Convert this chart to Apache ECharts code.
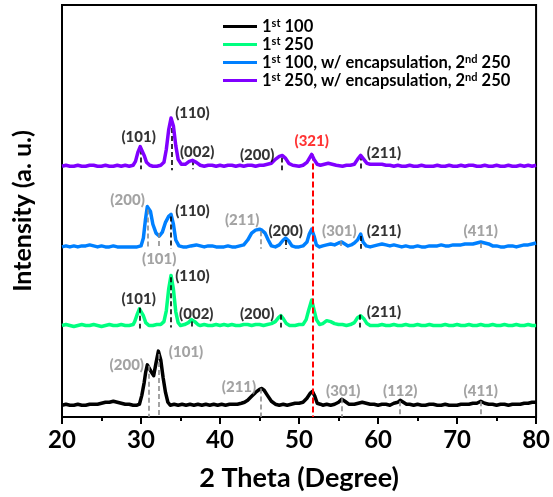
<!DOCTYPE html>
<html><head><meta charset="utf-8">
<script src="https://cdn.jsdelivr.net/npm/echarts@6/dist/echarts.min.js"></script>
<style>html,body{margin:0;padding:0;background:#fff}#c{width:553px;height:497px}</style>
</head><body><div id="c"></div>
<script>
const seriesNames = ['1st 100', '1st 250', '1st 100, w/ encapsulation, 2nd 250', '1st 250, w/ encapsulation, 2nd 250'];
const xTicks = [20, 30, 40, 50, 60, 70, 80];

const black = [[20,12],[20.5,13],[21,12],[21.5,12],[22,13],[22.5,12],[23,12],[23.5,13],[24,13],[24.5,13],[25,14],[25.5,15],[26,15],[26.5,16],[27,15],[27.5,14],[28,13],[28.5,13],[29,12],[29.5,12],[29.8,13],[30.1,22],[30.4,35],[30.6,46],[30.8,53],[31.0,52],[31.3,46],[31.6,42],[31.9,55],[32.2,67],[32.5,58],[32.8,40],[33.1,25],[33.4,15],[33.7,12],[34.2,13],[34.7,12],[35.2,13],[35.7,12],[36.2,13],[36.7,12],[37.2,13],[37.7,12],[38.2,13],[38.7,12],[39.2,13],[39.7,12],[40.2,13],[40.7,12],[41.2,13],[41.7,13],[42.2,13],[42.7,14],[43.1,15],[43.5,17],[44,21],[44.5,25],[45,28],[45.3,29],[45.6,27],[46,22],[46.5,16],[47,13],[47.5,12],[48,13],[48.5,12],[49,13],[49.5,14],[50,14],[50.5,15],[51,19],[51.4,24],[51.7,26],[52,21],[52.3,14],[52.7,13],[53,12],[53.5,13],[54,12],[54.5,13],[55,15],[55.4,18],[55.8,16],[56.3,13],[57,13],[57.5,14],[58,15],[58.5,14],[59,13],[59.5,13],[60,12],[60.5,13],[61,13],[61.5,12],[62,14],[62.5,15],[62.8,17],[63.2,15],[63.6,13],[64,13],[64.5,12],[65,13],[65.5,12],[66,12],[66.5,13],[67,13],[67.5,12],[68,12],[68.5,13],[69,12],[69.5,12],[70,12],[70.5,13],[71,13],[71.5,13],[72,14],[72.5,14],[73,16],[73.5,14],[74,13],[74.5,13],[75,12],[75.5,13],[76,13],[76.5,12],[77,13],[77.5,13],[78,13],[78.5,14],[79,14],[79.5,15],[80,15]];

const green = [[20,93],[20.5,94],[21,93],[21.5,92],[22,93],[22.5,94],[23,93],[23.5,93],[24,94],[24.5,93],[25,92],[25.5,93],[26,94],[26.5,93],[27,93],[27.5,94],[28,93],[28.5,93],[29,94],[29.2,97],[29.5,104],[29.8,110],[30.0,111],[30.3,103],[30.6,96],[31.0,93],[31.5,93],[32,94],[32.5,94],[32.9,97],[33.2,108],[33.5,130],[33.8,144],[34.1,130],[34.4,107],[34.7,96],[35,93],[35.5,94],[36,96],[36.4,99],[36.8,97],[37.2,94],[37.5,93],[38,94],[38.5,93],[39,93],[39.5,94],[40,93],[40.5,94],[41,93],[41.5,94],[42,93],[42.5,93],[43,94],[43.5,94],[44,93],[44.5,94],[45,94],[45.5,93],[46,94],[46.5,95],[47,97],[47.4,101],[47.7,103],[48,100],[48.4,95],[48.8,93],[49.5,93],[50,94],[50.5,94],[50.9,99],[51.2,108],[51.6,119],[51.9,109],[52.2,99],[52.6,94],[53,95],[53.5,98],[54,97],[54.5,95],[55,94],[55.5,94],[56,93],[56.5,94],[57,96],[57.4,101],[57.8,103],[58.2,100],[58.6,95],[59,93],[59.5,93],[60,93],[60.5,94],[61,93],[61.5,93],[62,94],[62.5,93],[63,93],[63.5,94],[64,93],[64.5,93],[65,94],[65.5,93],[66,93],[66.5,94],[67,93],[67.5,93],[68,93],[68.5,94],[69,93],[69.5,93],[70,94],[70.5,93],[71,93],[71.5,94],[72,93],[72.5,93],[73,94],[73.5,93],[74,93],[74.5,94],[75,93],[75.5,93],[76,94],[76.5,93],[77,93],[77.5,94],[78,93],[78.5,93],[79,94],[79.5,93],[80,93]];

const blue = [[20,173],[20.5,174],[21,173],[21.5,174],[22,173],[22.5,174],[23,174],[23.5,175],[24,174],[24.5,173],[25,174],[25.5,173],[26,173],[26.5,174],[27,173],[27.5,173],[28,173],[28.5,173],[29,173],[29.5,173],[30,174],[30.3,182],[30.55,200],[30.8,214],[31.0,216],[31.2,209],[31.5,196],[31.9,187],[32.3,184],[32.7,188],[33.1,198],[33.5,204],[33.8,206],[34.1,196],[34.4,180],[34.8,174],[35.3,173],[35.8,173],[36.3,174],[37,175],[37.5,174],[38,173],[38.5,174],[39,174],[39.5,173],[40,173],[40.5,173],[41,174],[41.5,173],[42,173],[42.5,174],[43,175],[43.5,180],[44,187],[44.5,190],[45,191],[45.3,190],[45.7,187],[46.1,180],[46.5,174],[47,173],[47.5,175],[48,180],[48.3,182],[48.7,179],[49.1,174],[49.5,173],[50,173],[50.5,174],[51,178],[51.3,186],[51.6,191],[51.9,184],[52.2,175],[52.6,173],[53,174],[53.5,175],[54,176],[54.5,175],[55,177],[55.4,178],[55.8,176],[56.2,174],[56.6,175],[57,177],[57.4,180],[57.8,186],[58.1,178],[58.5,174],[59,173],[59.5,174],[60,175],[60.5,176],[61,175],[61.5,174],[62,175],[62.5,174],[63,173],[63.5,174],[64,173],[64.5,173],[65,174],[65.5,173],[66,173],[66.5,174],[67,174],[67.5,174],[68,175],[68.5,174],[69,174],[69.5,175],[70,175],[70.5,175],[71,176],[71.5,176],[72,176],[72.5,177],[73,178],[73.5,177],[74,176],[74.5,174],[75,174],[75.5,173],[76,173],[76.5,174],[77,174],[77.5,173],[78,174],[78.5,175],[79,175],[79.5,176],[80,177]];

const purple = [[20,255],[20.5,256],[21,255],[21.5,255],[22,256],[22.5,255],[23,255],[23.5,256],[24,256],[24.5,255],[25,255],[25.5,256],[26,255],[26.5,255],[27,256],[27.5,255],[28,256],[28.5,255],[29,256],[29.3,260],[29.6,269],[29.9,275],[30.1,274],[30.4,266],[30.7,259],[31.1,256],[31.5,255],[32,255],[32.5,256],[32.9,259],[33.2,272],[33.5,292],[33.8,304],[34.1,296],[34.4,276],[34.7,262],[35.1,257],[35.6,257],[36.1,260],[36.5,261],[37,259],[37.5,256],[38,255],[38.5,256],[39,256],[39.5,255],[40,256],[40.5,255],[41,256],[41.5,256],[42,255],[42.5,256],[43,255],[43.5,256],[44,256],[44.5,255],[45,256],[45.5,256],[46,257],[46.5,258],[47,262],[47.5,265],[47.9,266],[48.3,263],[48.7,258],[49.2,256],[50,255],[50.5,256],[51,259],[51.3,263],[51.6,267],[51.9,262],[52.3,257],[52.7,256],[53.2,257],[53.7,258],[54.2,257],[54.7,256],[55.5,255],[56,256],[56.5,256],[57,257],[57.4,262],[57.8,266],[58.2,262],[58.6,258],[59,257],[59.5,257],[60,257],[60.5,257],[61,256],[61.5,256],[62,255],[62.5,256],[63,255],[63.5,255],[64,256],[64.5,255],[65,255],[65.5,256],[66,255],[66.5,255],[67,255],[67.5,256],[68,255],[68.5,255],[69,256],[69.5,255],[70,255],[70.5,256],[71,255],[71.5,256],[72,256],[72.5,255],[73,255],[73.5,256],[74,255],[74.5,255],[75,256],[75.5,255],[76,255],[76.5,256],[77,255],[77.5,255],[78,256],[78.5,255],[79,256],[79.5,255],[80,256]];

// peak marker dashes: [x, yTop, yBottom, kind] kind: k=black, g=gray, r=red
const peakMarks = [
  [30.0,272,252,'k'],[33.9,302,251,'k'],[36.5,261,252,'k'],[47.8,264,251,'k'],[57.8,266,251,'k'],
  [30.9,211,171,'g'],[32.3,187,171,'g'],[33.8,204,171,'k'],[45.2,189,171,'g'],[48.3,180,171,'k'],[55.3,179,171,'g'],[57.8,184,171,'k'],[73.0,177,171,'g'],
  [29.8,111,90,'k'],[33.8,142,91,'k'],[36.4,97,91,'k'],[47.7,104,91,'k'],[57.7,104,91,'k'],
  [31.0,52,0,'g'],[32.3,64,0,'g'],[45.2,29,0,'g'],[55.4,19,0,'g'],[62.8,16,0,'g'],[73.0,16,0,'g'],
  [51.7,267,0,'r']
];

// peak labels: [text, x, y, kind]
const peakLabels = [
  ['(101)',29.7,285,'k'],['(110)',36.5,309,'k'],['(002)',37.1,269,'k'],['(200)',44.7,266,'k'],['(321)',51.6,281,'r'],['(211)',60.75,268,'k'],
  ['(200)',28.3,221,'g'],['(110)',36.5,209,'k'],['(101)',32.3,161,'g'],['(211)',42.8,200,'g'],['(200)',48.3,189,'k'],['(301)',55.1,189,'g'],['(211)',60.75,189,'k'],['(411)',73.0,189,'g'],
  ['(101)',29.7,120,'k'],['(110)',36.5,143,'k'],['(002)',37.0,105,'k'],['(200)',44.7,105,'k'],['(211)',60.75,107,'k'],
  ['(200)',28.2,53,'g'],['(101)',35.7,66,'g'],['(211)',42.4,30,'g'],['(301)',55.6,26,'g'],['(112)',62.8,26,'g'],['(411)',73.0,26,'g']
];

const kindColor = {k: '#000000', g: '#8c8c8c', r: '#ff0000'};
const lineColors = ['#000000', '#00ff80', '#0080ff', '#8000ff'];
const FONT = 'Lato';

const chart = echarts.init(document.getElementById('c'), null, {renderer: 'canvas'});

function legendFmt(name) {
  return name.replace(/(\d)(st|nd)/g, '$1}{s|$2}{b|').replace(/^/, '{b|') + '}';
}

const lineSeries = [black, green, blue, purple].map((d, i) => ({
  name: seriesNames[i], type: 'line', data: d, symbol: 'none', smooth: false,
  lineStyle: {color: lineColors[i], width: 3.5, join: 'round'}, itemStyle: {color: lineColors[i]},
  z: 2 + i
}));

const markSeries = {
  type: 'line', data: [], silent: true, z: 10,
  markLine: {
    symbol: 'none', silent: true, animation: false, label: {show: false},
    data: peakMarks.map(m => [
      {coord: [m[0], m[1]], lineStyle: {color: kindColor[m[3]], type: m[3] === 'r' ? [6, 3] : [5, 3], width: m[3] === 'r' ? 2 : 1.6}},
      {coord: [m[0], m[2]]}
    ])
  }
};

const labelSeries = {
  type: 'scatter', symbolSize: 0, silent: true, z: 20,
  data: peakLabels.map(l => ({
    value: [l[1], l[2]], name: l[0],
    label: {show: true, position: 'inside', formatter: l[0], color: kindColor[l[3]],
      fontFamily: FONT, fontWeight: 900, fontSize: 15}
  }))
};

chart.setOption({
  animation: false,
  backgroundColor: '#fff',
  grid: {left: 62, right: 14, top: 5, bottom: 73, show: true, borderColor: '#000', borderWidth: 2, backgroundColor: 'transparent'},
  legend: {
    orient: 'vertical', left: 218, top: 13, itemGap: 1, itemWidth: 34, itemHeight: 16,
    data: seriesNames, icon: 'path://M0,7 L34,7 L34,10 L0,10 Z',
    formatter: legendFmt,
    textStyle: {
      rich: {
        b: {fontFamily: FONT, fontWeight: 'bold', fontSize: 16.5, color: '#000', lineHeight: 17},
        s: {fontFamily: FONT, fontWeight: 'bold', fontSize: 11, color: '#000', lineHeight: 11, padding: [0, 0, 6, 0]}
      }
    }
  },
  xAxis: {
    type: 'value', min: 20, max: 80, interval: 10,
    name: '2 Theta (Degree)', nameLocation: 'middle', nameGap: 48,
    nameTextStyle: {fontFamily: FONT, fontWeight: 'bold', fontSize: 27, color: '#000'},
    axisLine: {show: true, lineStyle: {color: '#000', width: 2}},
    axisTick: {show: true, inside: false, length: 7, lineStyle: {color: '#000', width: 2}},
    minorTick: {show: true, splitNumber: 2, length: 4, lineStyle: {color: '#000', width: 2}},
    axisLabel: {fontFamily: FONT, fontWeight: 'bold', fontSize: 24, color: '#000', margin: 11,
      formatter: v => xTicks.includes(v) ? String(v) : ''},
    splitLine: {show: false}
  },
  yAxis: {
    type: 'value', min: 0, max: 419,
    name: 'Intensity (a. u.)', nameLocation: 'middle', nameGap: 27, nameRotate: 90,
    nameTextStyle: {fontFamily: FONT, fontWeight: 'bold', fontSize: 25, color: '#000'},
    axisLine: {show: true, lineStyle: {color: '#000', width: 2}},
    axisTick: {show: false}, axisLabel: {show: false}, splitLine: {show: false}
  },
  series: [...lineSeries, markSeries, labelSeries]
});
</script>
</body></html>
